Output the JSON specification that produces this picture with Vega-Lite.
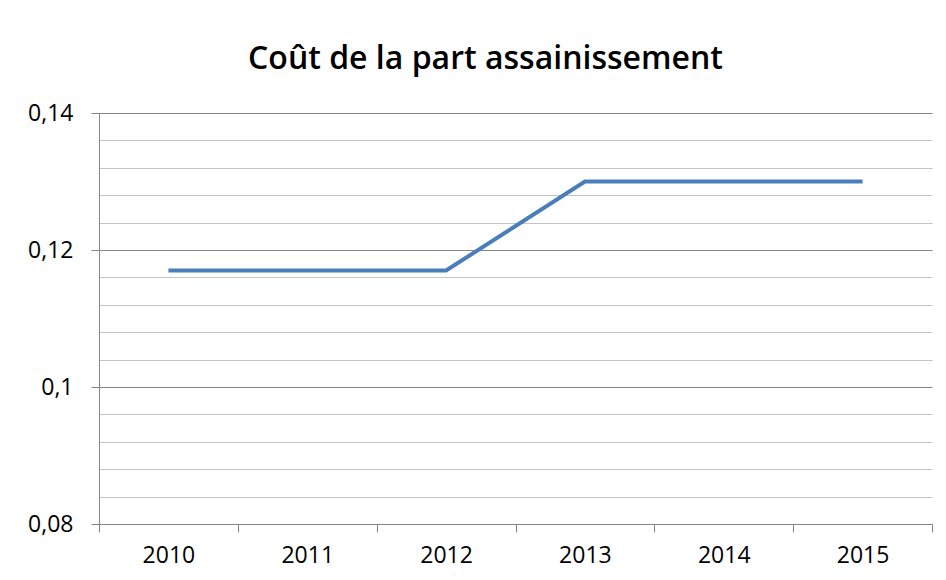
{
  "$schema": "https://vega.github.io/schema/vega-lite/v6.json",
  "autosize": {"type": "none"},
  "padding": {"left": 99, "top": 113, "right": 14, "bottom": 56},
  "width": 833,
  "height": 411,
  "background": "white",
  "title": {
    "text": "Coût de la part assainissement",
    "font": "Open Sans",
    "fontSize": 32,
    "fontWeight": 600,
    "color": "#000000",
    "anchor": "middle",
    "frame": "group",
    "dx": -30,
    "baseline": "alphabetic",
    "offset": 1
  },
  "data": {
    "values": [
      {"annee": "2010", "cout": 0.117},
      {"annee": "2011", "cout": 0.117},
      {"annee": "2012", "cout": 0.117},
      {"annee": "2013", "cout": 0.13},
      {"annee": "2014", "cout": 0.13},
      {"annee": "2015", "cout": 0.13}
    ]
  },
  "mark": {"type": "line", "color": "#4a7ebb", "strokeWidth": 4},
  "encoding": {
    "x": {
      "field": "annee",
      "type": "ordinal",
      "scale": {"type": "band", "paddingInner": 0, "paddingOuter": 0},
      "axis": {
        "title": null,
        "labelAngle": 0,
        "tickBand": "extent",
        "grid": false,
        "domainColor": "#868686",
        "tickColor": "#868686",
        "tickSize": 8,
        "labelFont": "Open Sans",
        "labelFontSize": 23,
        "labelColor": "#000000",
        "labelPadding": 12
      }
    },
    "y": {
      "field": "cout",
      "type": "quantitative",
      "scale": {"domain": [0.08, 0.14], "nice": false, "zero": false},
      "axis": {
        "title": null,
        "values": [0.08, 0.084, 0.088, 0.092, 0.096, 0.1, 0.104, 0.108, 0.112, 0.116, 0.12, 0.124, 0.128, 0.132, 0.136, 0.14],
        "labelExpr": "abs(datum.value*50 - round(datum.value*50)) < 0.001 ? replace(format(datum.value, '.2~f'), '.', ',') : ''",
        "grid": true,
        "gridColor": {"condition": {"test": "abs(datum.value*50 - round(datum.value*50)) < 0.001", "value": "#868686"}, "value": "#c4c4c4"},
        "tickColor": {"condition": {"test": "abs(datum.value*50 - round(datum.value*50)) < 0.001", "value": "#868686"}, "value": "transparent"},
        "tickSize": 8,
        "domainColor": "#868686",
        "labelFont": "Open Sans",
        "labelFontSize": 23,
        "labelColor": "#000000",
        "labelPadding": 18,
        "labelOverlap": false
      }
    }
  },
  "config": {"view": {"stroke": null}}
}
